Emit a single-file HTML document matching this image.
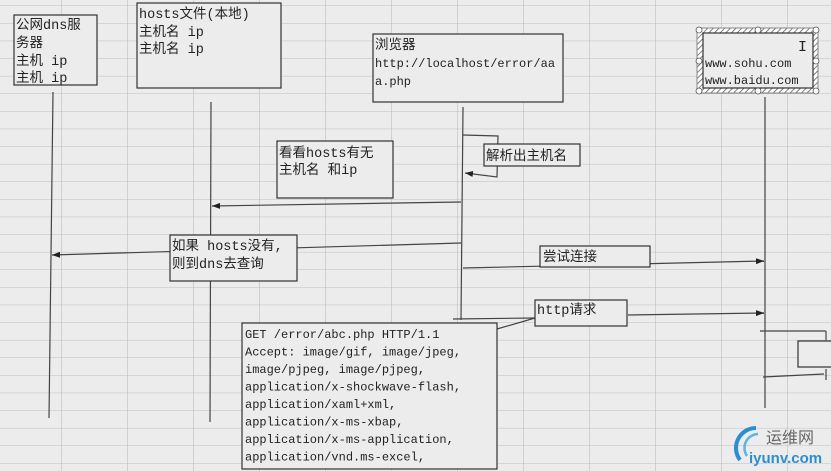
<!DOCTYPE html>
<html><head><meta charset="utf-8"><style>
html,body{margin:0;padding:0;background:#ebebeb;}
svg{display:block;}
text{font-family:"Liberation Mono","Noto Sans CJK SC",monospace;font-size:12px;fill:#222;}
.cn{font-family:"Liberation Mono","Noto Sans CJK SC",monospace;font-size:13.5px;}
</style></head><body>
<svg width="831" height="471" viewBox="0 0 831 471" xmlns="http://www.w3.org/2000/svg">
<defs>
<pattern id="grid" width="66" height="17.6" patternUnits="userSpaceOnUse" x="-5" y="5.5">
<line x1="0" y1="0" x2="66" y2="0" stroke="#bdbdbd" stroke-width="1"/>
<line x1="0" y1="0" x2="0" y2="17.6" stroke="#b5b5b5" stroke-width="1"/>
</pattern>
<pattern id="hatch" width="4" height="4" patternUnits="userSpaceOnUse" patternTransform="rotate(45)">
<rect width="4" height="4" fill="#fff"/><line x1="0" y1="0" x2="0" y2="4" stroke="#555" stroke-width="1.5"/>
</pattern>
<marker id="ah" markerWidth="8" markerHeight="6" refX="8" refY="3" orient="auto" markerUnits="userSpaceOnUse">
<path d="M0,0 L8,3 L0,6 z" fill="#222"/></marker>
</defs>
<rect width="831" height="471" fill="#ececec"/>
<rect width="831" height="471" fill="url(#grid)"/>
<g stroke="#444" stroke-width="1.2" fill="none">
<line x1="53" y1="92" x2="49" y2="418"/>
<line x1="211" y1="102" x2="210" y2="422"/>
<line x1="463" y1="107" x2="461" y2="320"/>
<line x1="765" y1="97" x2="765" y2="408"/>
<polyline points="463,135 498,136 497,177 465,173" marker-end="url(#ah)"/>
<line x1="461" y1="202" x2="212" y2="206" marker-end="url(#ah)"/>
<line x1="461" y1="243" x2="52" y2="255" marker-end="url(#ah)"/>
<line x1="463" y1="268" x2="764" y2="261" marker-end="url(#ah)"/>
<line x1="628" y1="315" x2="764" y2="313" marker-end="url(#ah)"/>
<line x1="453" y1="319" x2="535" y2="318"/>
<line x1="497" y1="329" x2="535" y2="318"/>
<line x1="760" y1="331" x2="826" y2="331"/>
<line x1="826" y1="331" x2="826" y2="340"/>
<line x1="763" y1="377" x2="824" y2="374"/>
<line x1="826" y1="369" x2="826" y2="380"/>
</g>
<g stroke="#333" stroke-width="1.2" fill="#ececec">
<rect x="14" y="15" width="83" height="70"/>
<rect x="137" y="3" width="144" height="85"/>
<rect x="373" y="34" width="190" height="68"/>
<rect x="277" y="141" width="116" height="57"/>
<rect x="484" y="144" width="96" height="22"/>
<rect x="170" y="235" width="127" height="46"/>
<rect x="540" y="246" width="110" height="21"/>
<rect x="535" y="300" width="92" height="26"/>
<rect x="242" y="323" width="255" height="146"/>
<rect x="798" y="341" width="40" height="26"/>
</g>
<rect x="697" y="28" width="121" height="65" fill="url(#hatch)" stroke="#888"/>
<rect x="703" y="33" width="110" height="55" fill="#ececec" stroke="#333" stroke-width="1.2"/>
<g fill="#fff" stroke="#555" stroke-width="0.8">
<circle cx="699" cy="30" r="3"/><circle cx="758" cy="30" r="3"/><circle cx="816" cy="30" r="3"/>
<circle cx="699" cy="61" r="3"/><circle cx="816" cy="61" r="3"/>
<circle cx="699" cy="91" r="3"/><circle cx="758" cy="91" r="3"/><circle cx="816" cy="91" r="3"/>
</g>
<text x="798" y="51" style="font-size:15px">I</text>
<text class="cn" x="16" y="29">公网dns服</text>
<text class="cn" x="16" y="47">务器</text>
<text class="cn" x="16" y="65">主机 ip</text>
<text class="cn" x="16" y="82">主机 ip</text>
<text class="cn" x="139" y="18">hosts文件(本地)</text>
<text class="cn" x="139" y="36">主机名  ip</text>
<text class="cn" x="139" y="53">主机名 ip</text>
<text class="cn" x="375" y="49">浏览器</text>
<text x="375" y="67">http://localhost/error/aa</text>
<text x="375" y="85">a.php</text>
<text class="cn" x="279" y="157">看看hosts有无</text>
<text class="cn" x="279" y="174">主机名 和ip</text>
<text class="cn" x="486" y="160">解析出主机名</text>
<text class="cn" x="172" y="250">如果 hosts没有,</text>
<text class="cn" x="172" y="268">则到dns去查询</text>
<text class="cn" x="543" y="261">尝试连接</text>
<text class="cn" x="537" y="314">http请求</text>
<text x="705" y="67">www.sohu.com</text>
<text x="705" y="84">www.baidu.com</text>
<g>
<text x="245" y="338">GET /error/abc.php HTTP/1.1</text>
<text x="245" y="355.5">Accept: image/gif, image/jpeg,</text>
<text x="245" y="373">image/pjpeg, image/pjpeg,</text>
<text x="245" y="390.5">application/x-shockwave-flash,</text>
<text x="245" y="408">application/xaml+xml,</text>
<text x="245" y="425.5">application/x-ms-xbap,</text>
<text x="245" y="443">application/x-ms-application,</text>
<text x="245" y="460.5">application/vnd.ms-excel,</text>
</g>
<path d="M756,428 A20,20 0 0 0 740,460" stroke="#2a8fd0" stroke-width="4" fill="none"/>
<path d="M758,434 A14,14 0 0 0 747,456" stroke="#5ab5e8" stroke-width="2.5" fill="none"/>
<text x="766" y="443" style="font-family:'Liberation Sans','Noto Sans CJK SC',sans-serif;font-size:16px;fill:#666">运维网</text>
<text x="749" y="463" style="font-family:'Liberation Sans',sans-serif;font-size:15px;font-weight:bold;fill:#2a8fd0">iyunv.com</text>
</svg>
</body></html>
